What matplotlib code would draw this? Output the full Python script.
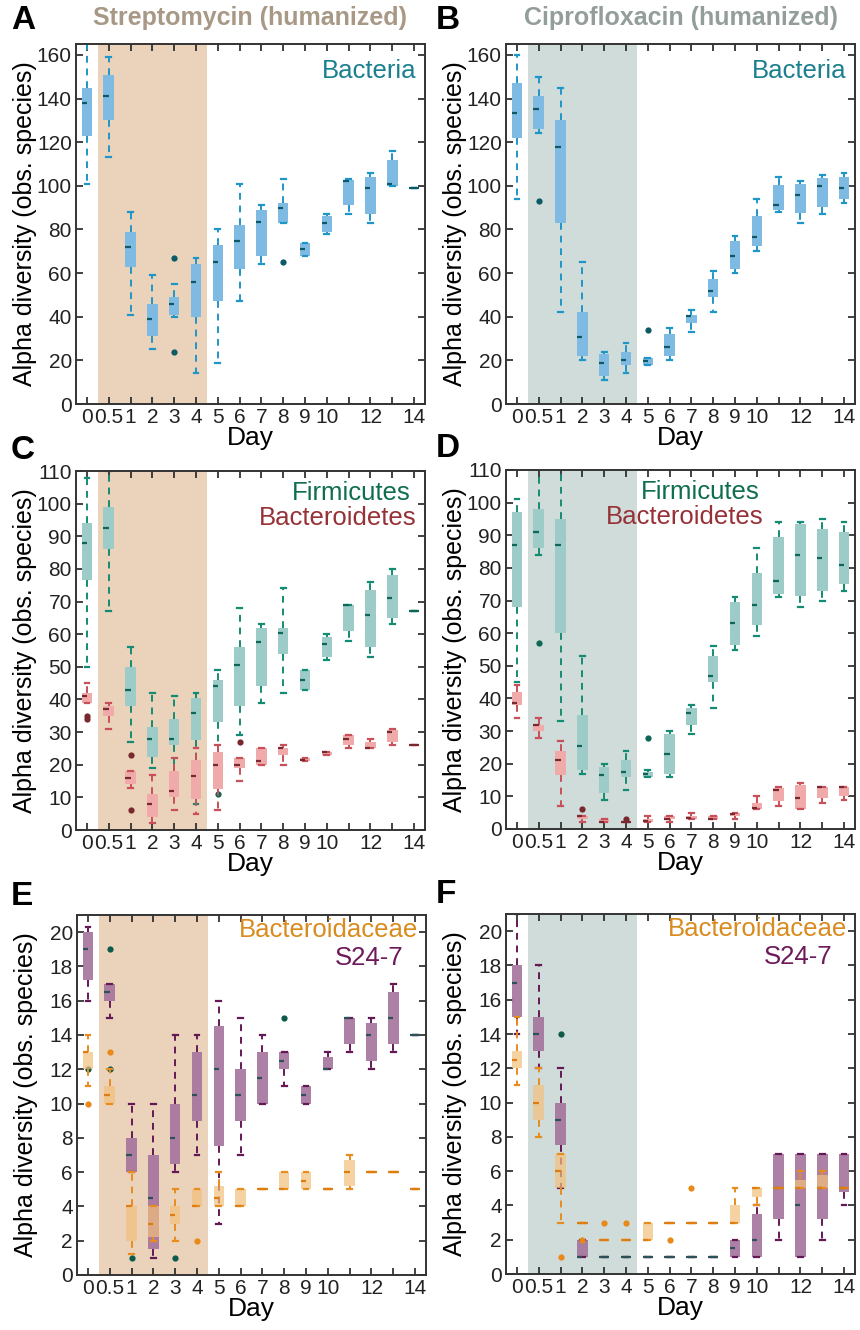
import numpy as np
import matplotlib
matplotlib.use('Agg')
import matplotlib.pyplot as plt

plt.rcParams['font.family'] = ['Liberation Sans', 'DejaVu Sans']

# x categories (days) and tick labels
days = ['0', '0.5', '1', '2', '3', '4', '5', '6', '7', '8', '9', '10', '11', '12', '13', '14']
day_ticks = ['0', '0.5', '1', '2', '3', '4', '5', '6', '7', '8', '9', '10', '', '12', '', '14']

# ---- A: streptomycin, bacteria
a_bac_med = [138, 141, 72, 39, 46, 56, 65, 74.5, 83.5, 90, 71, 83, 102, 99, 101, 99]
a_bac_q1 = [123, 130, 63, 31, 41, 40, 47, 62, 68, 83, 68, 79, 91, 87, 100, 99]
a_bac_q3 = [145, 151, 79, 46, 49, 64, 73, 82, 89, 92, 74, 86, 102.5, 104, 112, 99]
a_bac_lo = [101, 113, 41, 25, 40, 14, 19, 47, 64, 83, 68, 78, 87, 83, 100, 99]
a_bac_hi = [170, 159, 88, 59, 55, 67, 80, 101, 91, 103, 74, 87, 103, 106, 116, 99]
a_bac_out = [('3', 67), ('3', 24), ('8', 65)]

# ---- B: ciprofloxacin, bacteria
b_bac_med = [133.5, 135, 118, 30.5, 19, 20, 19.5, 26, 40.5, 52, 68, 76.5, 91, 96, 100, 99]
b_bac_q1 = [122, 126, 83, 22, 13, 18, 18, 22, 37, 49, 62, 72.5, 89, 87.5, 90.5, 94]
b_bac_q3 = [147, 141, 130, 42, 23, 24, 21, 32, 41, 57.5, 74.5, 86, 100.5, 101, 103.5, 104]
b_bac_lo = [94, 124, 42, 20, 11, 14, 18, 20, 33, 42, 60, 70, 88, 83, 87, 92]
b_bac_hi = [160, 150, 145, 65, 24, 28, 21, 35, 43, 61, 77, 94, 104, 102, 105, 106]
b_bac_out = [('0.5', 93), ('5', 34)]

# ---- C: streptomycin, Firmicutes / Bacteroidetes
c_fir_med = [88, 92.5, 43, 28, 28, 36, 44, 50.5, 57.5, 60.5, 46, 57, 69, 66, 71, 67]
c_fir_q1 = [76.5, 86, 38, 22.5, 26, 27.5, 33, 38, 44, 54, 43, 53, 61, 56, 65, 67]
c_fir_q3 = [94, 99, 50, 31.5, 34, 40.5, 46, 56, 62, 62, 49, 59, 69, 73.5, 78, 67]
c_fir_lo = [50, 67, 27, 19, 16, 8, 22, 29, 39, 42, 43, 52, 58, 53, 63, 67]
c_fir_hi = [108, 110, 56, 42, 41, 42, 49, 68, 63, 74, 49, 60, 69, 76, 80, 67]
c_fir_out = [('5', 11)]

c_bct_med = [41, 37, 16, 8, 12, 16.5, 20, 20, 21, 25, 21.5, 24, 28, 25, 30, 26]
c_bct_q1 = [39, 35, 14, 4, 10, 9.5, 12.5, 19, 20, 23, 21, 23, 26, 25, 27, 26]
c_bct_q3 = [42, 38, 18, 11, 18, 21.5, 24, 22, 25, 25, 22, 24, 29, 27, 30.5, 26]
c_bct_lo = [39, 31, 13, 2, 6, 5, 6, 15, 20, 20, 21, 23, 25, 25, 26, 26]
c_bct_hi = [45, 39, 18, 17, 22, 25, 26, 22, 25, 26, 22, 24, 29, 28, 31, 26]
c_bct_out = [('0', 35), ('0', 34), ('1', 23), ('1', 6), ('6', 27)]

# ---- D: ciprofloxacin, Firmicutes / Bacteroidetes
d_fir_med = [87, 91, 87, 25.5, 16.5, 17.5, 17, 23, 35.5, 47, 63, 68.5, 76, 84, 83, 81]
d_fir_q1 = [68, 86, 60, 18, 11, 16, 16, 17, 32, 45, 56.5, 62.5, 72, 71.5, 73, 75]
d_fir_q3 = [97, 98, 95, 35, 19, 21, 17.5, 29, 37, 53, 69.5, 78.5, 89.5, 93.5, 92, 91]
d_fir_lo = [45, 84, 33, 17, 9, 12, 16, 16, 29, 37, 55, 59, 71, 68, 70, 73]
d_fir_hi = [101, 115, 115, 53, 20, 24, 18, 30, 38, 56, 71, 86, 94, 94, 95, 94]
d_fir_out = [('0.5', 57), ('5', 28)]

d_bct_med = [38.5, 32, 21, 4, 2, 2, 2.5, 3, 3.5, 3, 4.5, 6.5, 12, 9.5, 13, 13]
d_bct_q1 = [38, 30, 16.5, 3, 2, 2, 2, 3, 3, 3, 4, 6, 8.5, 6, 9.5, 10]
d_bct_q3 = [42, 32, 24, 4, 3, 2, 3, 4, 4, 4, 5, 8, 12.5, 13.5, 13, 13]
d_bct_lo = [34, 28, 7, 2, 2, 2, 2, 2, 3, 3, 3, 6, 7, 6, 8, 9]
d_bct_hi = [44, 34, 27, 4, 3, 2, 4, 4, 5, 4, 5, 10, 13, 14, 13, 13]
d_bct_out = [('2', 6), ('4', 3)]

# ---- E: streptomycin, S24-7 / Bacteroidaceae
e_s24_med = [19, 16.5, 7, 4.5, 8, 10.5, 12, 10.5, 11.5, 12.5, 10.5, 12, 15, 14, 15, 14]
e_s24_q1 = [17.2, 16, 6, 1.5, 6.5, 9, 7.5, 9, 10, 12, 10, 12, 13.5, 12.5, 13.5, 14]
e_s24_q3 = [20, 17, 8, 7, 10, 13, 14.5, 12, 13, 13, 11, 12.7, 15, 14.7, 16.5, 14]
e_s24_lo = [16, 15, 6, 1, 6, 7, 3, 7, 10, 11, 10, 12, 13, 12, 13, 14]
e_s24_hi = [20.3, 17, 10, 10, 14, 14, 16, 15, 14, 13, 11, 13, 15, 15, 17, 14]
e_s24_out = [('0', 12), ('0.5', 19), ('0.5', 12), ('1', 1), ('3', 1), ('8', 15)]

e_bcd_med = [13, 10.5, 4, 3, 3.5, 4, 4.5, 4, 5, 5, 5.5, 5, 6, 6, 6, 5]
e_bcd_q1 = [12, 10, 2, 2.2, 3, 4, 4, 4, 5, 5, 5, 5, 5.2, 6, 6, 5]
e_bcd_q3 = [13, 11, 4, 4, 4, 5, 5.2, 5, 5, 6, 6, 5, 6.7, 6, 6, 5]
e_bcd_lo = [11, 10, 1.2, 2, 2, 4, 4, 4, 5, 5, 5, 5, 5, 6, 6, 5]
e_bcd_hi = [14, 12, 6, 4, 5, 5, 6, 5, 5, 6, 6, 5, 7, 6, 6, 5]
e_bcd_out = [('0', 10), ('0.5', 13), ('4', 2)]

# ---- F: ciprofloxacin, S24-7 / Bacteroidaceae
f_s24_med = [17, 14, 9, 1, 1, 1, 1, 1, 1, 1, 1.5, 2, 5, 4, 5, 5]
f_s24_q1 = [15, 13, 7.5, 1, 1, 1, 1, 1, 1, 1, 1, 1, 3.2, 1, 3.2, 4.8]
f_s24_q3 = [18, 15, 10, 2, 1, 1, 1, 1, 1, 1, 2, 3.5, 7, 7, 7, 7]
f_s24_lo = [14, 12, 5, 1, 1, 1, 1, 1, 1, 1, 1, 1, 2, 1, 2, 4]
f_s24_hi = [21, 18, 12, 2, 1, 1, 1, 1, 1, 1, 2, 4, 7, 7, 7, 7]
f_s24_out = [('1', 14)]

f_bcd_med = [12.5, 10, 6, 3, 2, 2, 2, 3, 3, 3, 3, 5, 5, 5, 5, 5]
f_bcd_q1 = [12, 9, 5, 3, 2, 2, 2, 3, 3, 3, 3, 4.5, 5, 5, 5, 5]
f_bcd_q3 = [13, 11, 7, 3, 2, 2, 3, 3, 3, 3, 4, 5, 5, 5.5, 5.8, 5]
f_bcd_lo = [11, 8, 3, 3, 2, 2, 2, 3, 3, 3, 3, 4, 5, 5, 5, 5]
f_bcd_hi = [15, 12, 7, 3, 2, 2, 3, 3, 3, 3, 5, 5, 5, 6, 6, 5]
f_bcd_out = [('1', 1), ('2', 2), ('3', 3), ('4', 3), ('6', 2), ('7', 5)]

# colours
strep_bg, cipro_bg = '#ebd3bb', '#cfdcd9'
strep_title, cipro_title = '#a89886', '#939e9b'
pos = np.arange(len(days))


def draw_series(ax, med, q1, q3, lo, hi, out, box_c, line_c, med_c, out_c, alpha=1.0):
    stats = []
    for i, d in enumerate(days):
        stats.append(dict(med=med[i], q1=q1[i], q3=q3[i], whislo=lo[i], whishi=hi[i],
                          fliers=[v for dd, v in out if dd == d]))
    w = 0.48
    ax.bxp(stats, positions=pos, widths=w, capwidths=0.22, patch_artist=True,
           manage_ticks=False,
           boxprops=dict(facecolor=box_c, edgecolor='none', alpha=alpha),
           whiskerprops=dict(color=line_c, lw=1.4, ls=(0, (3.5, 3))),
           capprops=dict(color=line_c, lw=1.6),
           medianprops=dict(visible=False),
           flierprops=dict(marker='o', ms=4.5, mfc=out_c, mec='none'))
    # short median dashes (left half of box, full width when box collapses)
    for i in range(len(days)):
        right = pos[i] + w / 2 if q1[i] == q3[i] else pos[i]
        ax.hlines(med[i], pos[i] - w / 2, right, color=med_c, lw=1.6, zorder=4)


def setup(ax, ymax, yticks, bg):
    ax.axvspan(0.5, 5.5, color=bg, lw=0, zorder=0)
    ax.set_xlim(-0.5, 15.5)
    ax.set_ylim(0, ymax)
    ax.set_xticks(pos)
    ax.set_xticklabels(day_ticks)
    ax.set_yticks(yticks)
    ax.tick_params(direction='in', top=True, right=True, length=5, width=1.2,
                   labelsize=15, pad=3, colors='#222222')
    for s in ax.spines.values():
        s.set_linewidth(1.4)
        s.set_color('#333333')
    ax.set_xlabel('Day', fontsize=19)
    ax.set_ylabel('Alpha diversity (obs. species)', fontsize=18)
    ax.xaxis.set_label_coords(0.5, -0.06)
    ax.yaxis.set_label_coords(-0.112, 0.5)


W, H = 860, 1330
fig = plt.figure(figsize=(W / 100, H / 100), dpi=100)


def add_ax(x0, y0, x1, y1):
    return fig.add_axes([x0 / W, 1 - y1 / H, (x1 - x0) / W, (y1 - y0) / H])


axA = add_ax(76, 44, 425, 404)
axB = add_ax(506, 44, 855, 404)
axC = add_ax(76, 471, 425, 830)
axD = add_ax(506, 470, 855, 829)
axE = add_ax(77, 915, 426, 1275)
axF = add_ax(506, 914, 855, 1274)

bac = dict(box_c='#7fbae2', line_c='#1f96c8', med_c='#0b5a66', out_c='#0b5a66')
fir = dict(box_c='#9ccbc8', line_c='#148c73', med_c='#0d6656', out_c='#0d6656')
bct = dict(box_c='#f0aaaa', line_c='#c8505a', med_c='#7a2830', out_c='#7a2830')
s24 = dict(box_c='#a4739c', line_c='#641955', med_c='#2c5258', out_c='#0e5a4a', alpha=0.9)
bcd = dict(box_c='#f2c07a', line_c='#e88c1e', med_c='#e07d10', out_c='#e8891a', alpha=0.7)

draw_series(axA, a_bac_med, a_bac_q1, a_bac_q3, a_bac_lo, a_bac_hi, a_bac_out, **bac)
setup(axA, 165, np.arange(0, 161, 20), strep_bg)
draw_series(axB, b_bac_med, b_bac_q1, b_bac_q3, b_bac_lo, b_bac_hi, b_bac_out, **bac)
setup(axB, 165, np.arange(0, 161, 20), cipro_bg)

draw_series(axC, c_fir_med, c_fir_q1, c_fir_q3, c_fir_lo, c_fir_hi, c_fir_out, **fir)
draw_series(axC, c_bct_med, c_bct_q1, c_bct_q3, c_bct_lo, c_bct_hi, c_bct_out, **bct)
setup(axC, 110, np.arange(0, 111, 10), strep_bg)
draw_series(axD, d_fir_med, d_fir_q1, d_fir_q3, d_fir_lo, d_fir_hi, d_fir_out, **fir)
draw_series(axD, d_bct_med, d_bct_q1, d_bct_q3, d_bct_lo, d_bct_hi, d_bct_out, **bct)
setup(axD, 110, np.arange(0, 111, 10), cipro_bg)

draw_series(axE, e_s24_med, e_s24_q1, e_s24_q3, e_s24_lo, e_s24_hi, e_s24_out, **s24)
draw_series(axE, e_bcd_med, e_bcd_q1, e_bcd_q3, e_bcd_lo, e_bcd_hi, e_bcd_out, **bcd)
setup(axE, 21, np.arange(0, 21, 2), strep_bg)
draw_series(axF, f_s24_med, f_s24_q1, f_s24_q3, f_s24_lo, f_s24_hi, f_s24_out, **s24)
draw_series(axF, f_bcd_med, f_bcd_q1, f_bcd_q3, f_bcd_lo, f_bcd_hi, f_bcd_out, **bcd)
setup(axF, 21, np.arange(0, 21, 2), cipro_bg)

# in-panel labels
for ax in (axA, axB):
    ax.text(0.975, 0.925, 'Bacteria', transform=ax.transAxes, ha='right', va='center',
            fontsize=18.5, color='#1a7f8e')
axC.text(0.96, 0.94, 'Firmicutes', transform=axC.transAxes, ha='right', va='center',
         fontsize=18.5, color='#106e50')
axC.text(0.975, 0.868, 'Bacteroidetes', transform=axC.transAxes, ha='right', va='center',
         fontsize=18.5, color='#963237')
axD.text(0.728, 0.94, 'Firmicutes', transform=axD.transAxes, ha='right', va='center',
         fontsize=18.5, color='#106e50')
axD.text(0.737, 0.868, 'Bacteroidetes', transform=axD.transAxes, ha='right', va='center',
         fontsize=18.5, color='#963237')
for ax in (axE, axF):
    ax.text(0.978, 0.958, 'Bacteroidaceae', transform=ax.transAxes, ha='right', va='center',
            fontsize=18.5, color='#d98b1e')
    ax.text(0.935, 0.88, 'S24-7', transform=ax.transAxes, ha='right', va='center',
            fontsize=18.5, color='#6e195a')

# titles and panel letters
fig.text(250 / W, 1 - 18 / H, 'Streptomycin (humanized)', ha='center', va='center',
         fontsize=18, fontweight='bold', color=strep_title)
fig.text(681 / W, 1 - 18 / H, 'Ciprofloxacin (humanized)', ha='center', va='center',
         fontsize=18, fontweight='bold', color=cipro_title)
for lab, x, y in [('A', 11, 5), ('B', 436, 5), ('C', 11, 435), ('D', 436, 433),
                  ('E', 11, 881), ('F', 436, 879)]:
    fig.text(x / W, 1 - y / H, lab, ha='left', va='top', fontsize=24, fontweight='bold')

fig.savefig('out.png', dpi=100)
